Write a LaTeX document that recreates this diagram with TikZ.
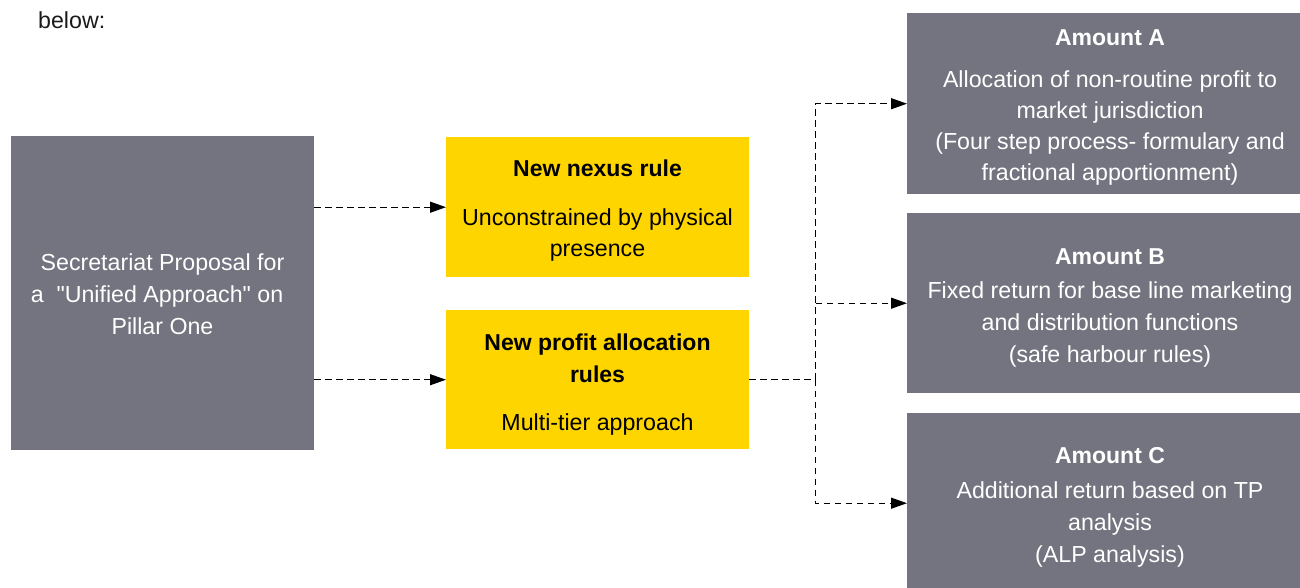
\documentclass[tikz,border=0pt]{standalone}
\usepackage{fontspec}
\setmainfont{Liberation Sans}[Ligatures=TeXOff]
\usetikzlibrary{arrows.meta}
\definecolor{eygrey}{HTML}{747480}
\definecolor{eyyellow}{HTML}{FFD500}
\definecolor{bodytext}{HTML}{1A1A1A}
\begin{document}
\begin{tikzpicture}[x=1pt,y=-1pt,
  greybox/.style={fill=eygrey, draw=none, inner sep=0pt, anchor=north west},
  yelbox/.style={fill=eyyellow, draw=none, inner sep=0pt, anchor=north west},
  txt/.style={anchor=base, inner sep=0pt, font=\fontsize{23.2}{32}\selectfont},
  wtxt/.style={txt, text=white},
  btxt/.style={txt, text=black},
  wtitle/.style={wtxt, font=\fontsize{23}{32}\selectfont\bfseries},
  btitle/.style={btxt, font=\fontsize{23}{32}\selectfont\bfseries},
  conn/.style={draw=black, line width=1.2pt, dash pattern=on 6.5pt off 4.5pt},
  arr/.style={conn, -{Triangle[length=16pt,width=11pt]}}
]
\useasboundingbox (0,0) rectangle (1300,587);

% intro text
\node[txt, anchor=base west, text=bodytext] (intro) at (38,28) {below:};

% boxes
\node[greybox, minimum width=303pt, minimum height=314pt] (L) at (11,136) {};
\node[yelbox, minimum width=303pt, minimum height=140pt] (Y1) at (446,137) {};
\node[yelbox, minimum width=303pt, minimum height=139pt] (Y2) at (446,310) {};
\node[greybox, minimum width=406pt, minimum height=181pt] (A) at (907,13) {};
\node[greybox, minimum width=406pt, minimum height=180pt] (B) at (907,213) {};
\node[greybox, minimum width=406pt, minimum height=180pt] (C) at (907,413) {};

% left box text
\node[wtxt] (L1) at (162.5,270) {Secretariat Proposal for};
\node[wtxt] (L2) at (157,302) {a\ \ "Unified Approach" on};
\node[wtxt] (L3) at (162.5,334) {Pillar One};

% yellow box 1 text
\node[btitle] (Y1t) at (597.5,176) {New nexus rule};
\node[btxt] (Y1a) at (597.5,225) {Unconstrained by physical};
\node[btxt] (Y1b) at (597.5,256) {presence};

% yellow box 2 text
\node[btitle] (Y2t) at (597.5,350) {New profit allocation};
\node[btitle] (Y2u) at (597.5,382) {rules};
\node[btxt] (Y2a) at (597.5,430) {Multi-tier approach};

% Amount A text
\node[wtitle] (At) at (1110,45) {Amount A};
\node[wtxt] (A1) at (1110,87) {Allocation of non-routine profit to};
\node[wtxt] (A2) at (1110,118) {market jurisdiction};
\node[wtxt] (A3) at (1110,149) {(Four step process- formulary and};
\node[wtxt] (A4) at (1110,180) {fractional apportionment)};

% Amount B text
\node[wtitle] (Bt) at (1110,264) {Amount B};
\node[wtxt] (B1) at (1110,298) {Fixed return for base line marketing};
\node[wtxt] (B2) at (1110,330) {and distribution functions};
\node[wtxt] (B3) at (1110,362) {(safe harbour rules)};

% Amount C text
\node[wtitle] (Ct) at (1110,463) {Amount C};
\node[wtxt] (C1) at (1110,498) {Additional return based on TP};
\node[wtxt] (C2) at (1110,530) {analysis};
\node[wtxt] (C3) at (1110,562) {(ALP analysis)};

% connectors
\draw[arr] (L.east |- Y1.west) -- (Y1.west);
\draw[arr] (L.east |- Y2.west) -- (Y2.west);
\path (Y2.east) ++(66,0) coordinate (J);
\draw[conn] (Y2.east) -- (J);
\draw[arr] (J) |- (A.west);
\draw[arr] (J) |- (B.west);
\draw[arr] (J) |- (C.west);
\end{tikzpicture}
\end{document}
